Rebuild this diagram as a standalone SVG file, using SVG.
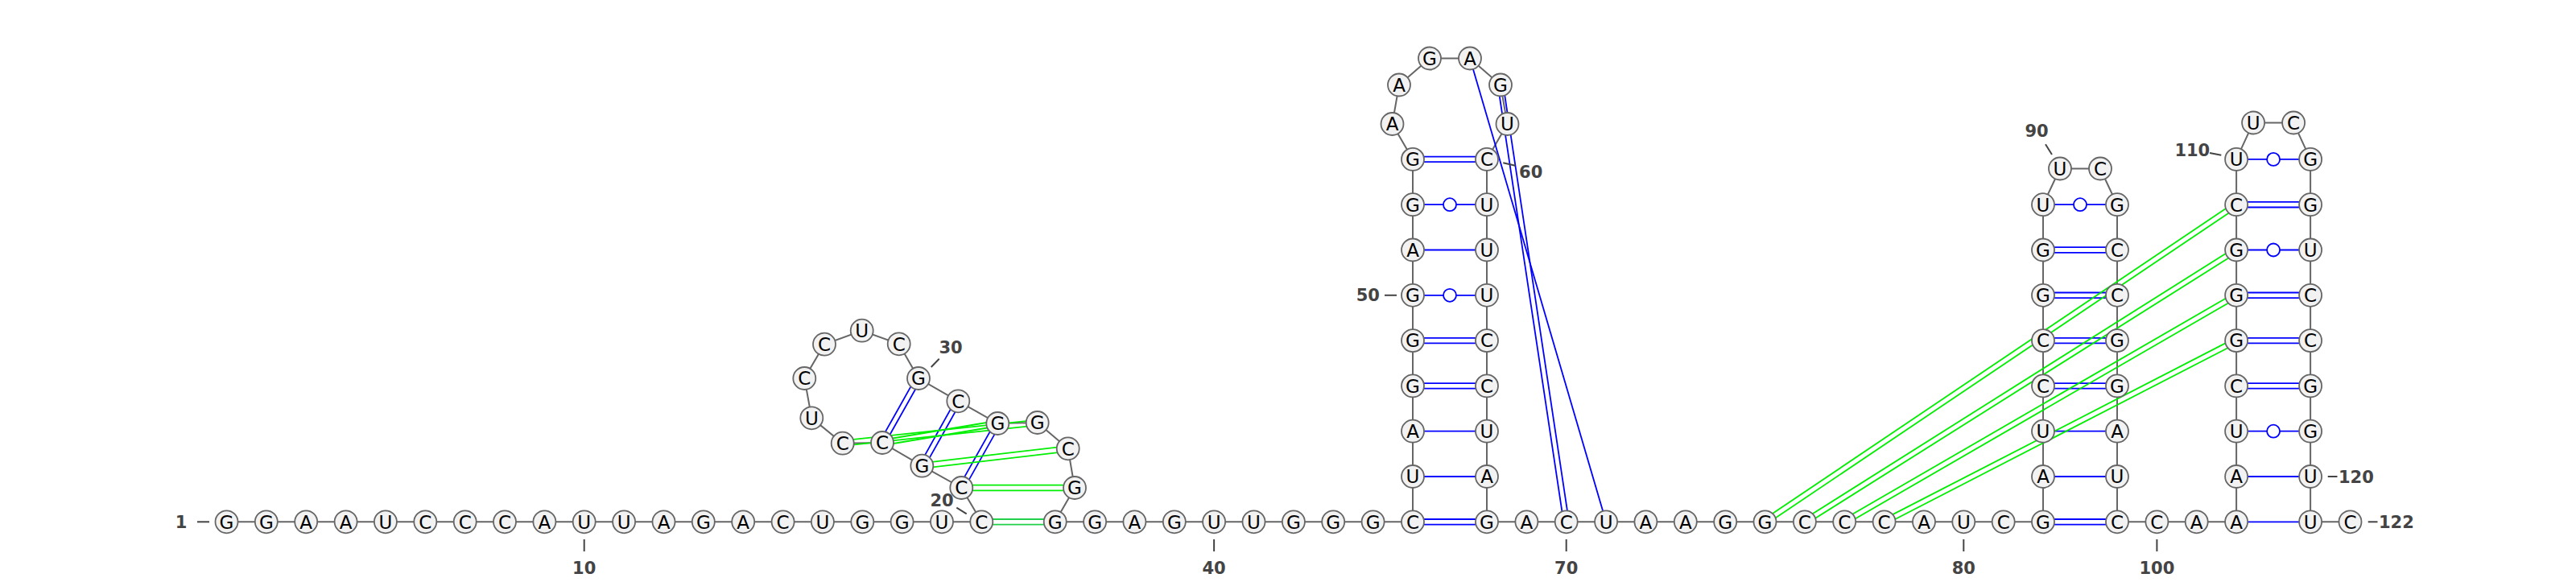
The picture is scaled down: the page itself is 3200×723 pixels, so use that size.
<svg xmlns="http://www.w3.org/2000/svg" width="3200" height="723" viewBox="0 0 3200 723">
<style>
.bb{fill:none;stroke:#666;stroke-width:2}
.bp{fill:none;stroke:#0000ff;stroke-width:1.8}
.gp{fill:none;stroke:#00ee00;stroke-width:1.8}
.gq{fill:none;stroke:#22d04a;stroke-width:1.8}
.wb{fill:#fff;stroke:#0000ff;stroke-width:1.8}
.n circle{fill:#f2f2f2;stroke:#666;stroke-width:1.8}
.n text{font-family:"DejaVu Sans",sans-serif;font-size:23px;text-anchor:middle;fill:#000}
.lb{font-family:"DejaVu Sans",sans-serif;font-weight:bold;font-size:21px;fill:#444}
.tk{stroke:#444;stroke-width:2}
</style>
<rect width="3200" height="723" fill="#fff"/>
<g id="connectors">
<polyline class="bb" points="281.5,648.3 330.8,648.3 380.2,648.3 429.6,648.3 478.9,648.3 528.3,648.3 577.7,648.3 627,648.3 676.4,648.3 725.7,648.3 775.1,648.3 824.5,648.3 873.8,648.3 923.2,648.3 972.6,648.3 1021.9,648.3 1071.3,648.3 1120.6,648.3 1170,648.3 1219.3,648.3 1194.3,606 1145.3,578.7 1096,550 1046.7,550.7 1008.3,519.3 999.3,470 1024,427.7 1070.7,410.7 1116.7,427.3 1141,470 1190.3,498.3 1239.3,526 1288.7,525 1326.7,557.3 1335,606 1310.7,648.3 1360.1,648.3 1409.4,648.3 1458.8,648.3 1508.1,648.3 1557.5,648.3 1606.9,648.3 1656.2,648.3 1705.6,648.3 1755,648.3 1755,592 1755,535.7 1755,479.4 1755,423.1 1755,366.8 1755,310.5 1755,254.2 1755,197.9 1729.5,154 1738,105.5 1776,72.5 1826,72.5 1864,105.5 1872.5,154 1847,197.9 1847,254.2 1847,310.5 1847,366.8 1847,423.1 1847,479.4 1847,535.7 1847,592 1847,648.3 1896.4,648.3 1945.7,648.3 1995.1,648.3 2044.4,648.3 2093.8,648.3 2143.2,648.3 2192.5,648.3 2241.9,648.3 2291.2,648.3 2340.6,648.3 2390,648.3 2439.3,648.3 2488.7,648.3 2538,648.3 2538,592 2538,535.7 2538,479.4 2538,423.1 2538,366.8 2538,310.5 2538,254.2 2559,209.5 2609,209.5 2630,254.2 2630,310.5 2630,366.8 2630,423.1 2630,479.4 2630,535.7 2630,592 2630,648.3 2679.4,648.3 2728.7,648.3 2778.1,648.3 2778.1,592 2778.1,535.7 2778.1,479.4 2778.1,423.1 2778.1,366.8 2778.1,310.5 2778.1,254.2 2778.1,197.9 2799.1,152.5 2849.1,152.5 2870.1,197.9 2870.1,254.2 2870.1,310.5 2870.1,366.8 2870.1,423.1 2870.1,479.4 2870.1,535.7 2870.1,592 2870.1,648.3 2919.5,648.3"/>
<!-- PK1 hairpin stem (blue) -->
<line class="bp" x1="1143.88" y1="471.62" x2="1098.88" y2="551.62"/>
<line class="bp" x1="1138.12" y1="468.38" x2="1093.12" y2="548.38"/>
<line class="bp" x1="1193.18" y1="499.92" x2="1148.18" y2="580.32"/>
<line class="bp" x1="1187.42" y1="496.68" x2="1142.42" y2="577.08"/>
<line class="bp" x1="1242.18" y1="527.62" x2="1197.18" y2="607.62"/>
<line class="bp" x1="1236.42" y1="524.38" x2="1191.42" y2="604.38"/>
<!-- PK1 green -->
<line class="gq" x1="1219.3" y1="645" x2="1310.7" y2="645"/>
<line class="gq" x1="1219.3" y1="651.6" x2="1310.7" y2="651.6"/>
<line class="gp" x1="1194.3" y1="602.7" x2="1335" y2="602.7"/>
<line class="gp" x1="1194.3" y1="609.3" x2="1335" y2="609.3"/>
<line class="gp" x1="1145.69" y1="581.98" x2="1327.09" y2="560.58"/>
<line class="gp" x1="1144.91" y1="575.42" x2="1326.31" y2="554.02"/>
<line class="gp" x1="1096.55" y1="553.25" x2="1239.85" y2="529.25"/>
<line class="gp" x1="1095.45" y1="546.75" x2="1238.75" y2="522.75"/>
<line class="gp" x1="1047.05" y1="553.98" x2="1289.05" y2="528.28"/>
<line class="gp" x1="1046.35" y1="547.42" x2="1288.35" y2="521.72"/>
<!-- Stem 2 -->
<line class="bp" x1="1755" y1="645" x2="1847" y2="645"/>
<line class="bp" x1="1755" y1="651.6" x2="1847" y2="651.6"/>
<line class="bp" x1="1755" y1="592" x2="1847" y2="592"/>
<line class="bp" x1="1755" y1="535.7" x2="1847" y2="535.7"/>
<line class="bp" x1="1755" y1="476.1" x2="1847" y2="476.1"/>
<line class="bp" x1="1755" y1="482.7" x2="1847" y2="482.7"/>
<line class="bp" x1="1755" y1="419.8" x2="1847" y2="419.8"/>
<line class="bp" x1="1755" y1="426.4" x2="1847" y2="426.4"/>
<line class="bp" x1="1755" y1="366.8" x2="1847" y2="366.8"/>
<line class="bp" x1="1755" y1="310.5" x2="1847" y2="310.5"/>
<line class="bp" x1="1755" y1="254.2" x2="1847" y2="254.2"/>
<line class="bp" x1="1755" y1="194.6" x2="1847" y2="194.6"/>
<line class="bp" x1="1755" y1="201.2" x2="1847" y2="201.2"/>
<!-- PK2 blue -->
<line class="bp" x1="1867.26" y1="105.01" x2="1948.96" y2="647.81"/>
<line class="bp" x1="1860.74" y1="105.99" x2="1942.44" y2="648.79"/>
<line class="bp" x1="1826" y1="72.5" x2="1995.1" y2="648.3"/>
<!-- Stem 3 -->
<line class="bp" x1="2538" y1="645" x2="2630" y2="645"/>
<line class="bp" x1="2538" y1="651.6" x2="2630" y2="651.6"/>
<line class="bp" x1="2538" y1="592" x2="2630" y2="592"/>
<line class="bp" x1="2538" y1="535.7" x2="2630" y2="535.7"/>
<line class="bp" x1="2538" y1="476.1" x2="2630" y2="476.1"/>
<line class="bp" x1="2538" y1="482.7" x2="2630" y2="482.7"/>
<line class="bp" x1="2538" y1="419.8" x2="2630" y2="419.8"/>
<line class="bp" x1="2538" y1="426.4" x2="2630" y2="426.4"/>
<line class="bp" x1="2538" y1="363.5" x2="2630" y2="363.5"/>
<line class="bp" x1="2538" y1="370.1" x2="2630" y2="370.1"/>
<line class="bp" x1="2538" y1="307.2" x2="2630" y2="307.2"/>
<line class="bp" x1="2538" y1="313.8" x2="2630" y2="313.8"/>
<line class="bp" x1="2538" y1="254.2" x2="2630" y2="254.2"/>
<!-- Stem 4 -->
<line class="bp" x1="2778.1" y1="648.3" x2="2870.1" y2="648.3"/>
<line class="bp" x1="2778.1" y1="592" x2="2870.1" y2="592"/>
<line class="bp" x1="2778.1" y1="535.7" x2="2870.1" y2="535.7"/>
<line class="bp" x1="2778.1" y1="476.1" x2="2870.1" y2="476.1"/>
<line class="bp" x1="2778.1" y1="482.7" x2="2870.1" y2="482.7"/>
<line class="bp" x1="2778.1" y1="419.8" x2="2870.1" y2="419.8"/>
<line class="bp" x1="2778.1" y1="426.4" x2="2870.1" y2="426.4"/>
<line class="bp" x1="2778.1" y1="363.5" x2="2870.1" y2="363.5"/>
<line class="bp" x1="2778.1" y1="370.1" x2="2870.1" y2="370.1"/>
<line class="bp" x1="2778.1" y1="310.5" x2="2870.1" y2="310.5"/>
<line class="bp" x1="2778.1" y1="250.9" x2="2870.1" y2="250.9"/>
<line class="bp" x1="2778.1" y1="257.5" x2="2870.1" y2="257.5"/>
<line class="bp" x1="2778.1" y1="197.9" x2="2870.1" y2="197.9"/>
<!-- PK3 green -->
<line class="gp" x1="2194.34" y1="651.04" x2="2779.94" y2="256.94"/>
<line class="gp" x1="2190.66" y1="645.56" x2="2776.26" y2="251.46"/>
<line class="gp" x1="2243.66" y1="651.09" x2="2779.86" y2="313.29"/>
<line class="gp" x1="2240.14" y1="645.51" x2="2776.34" y2="307.71"/>
<line class="gp" x1="2292.85" y1="651.16" x2="2779.75" y2="369.66"/>
<line class="gp" x1="2289.55" y1="645.44" x2="2776.45" y2="363.94"/>
<line class="gp" x1="2342.11" y1="651.23" x2="2779.61" y2="426.03"/>
<line class="gp" x1="2339.09" y1="645.37" x2="2776.59" y2="420.17"/>
<!-- wobble pairs -->
<circle class="wb" cx="1801" cy="366.8" r="8"/>
<circle class="wb" cx="1801" cy="254.2" r="8"/>
<circle class="wb" cx="2584" cy="254.2" r="8"/>
<circle class="wb" cx="2824.1" cy="535.7" r="8"/>
<circle class="wb" cx="2824.1" cy="310.5" r="8"/>
<circle class="wb" cx="2824.1" cy="197.9" r="8"/>
</g>
<g id="nodes">
<g id="nt1" class="n"><circle cx="281.5" cy="648.3" r="14"/><text x="281.5" y="656.6">G</text></g>
<g id="nt2" class="n"><circle cx="330.8" cy="648.3" r="14"/><text x="330.8" y="656.6">G</text></g>
<g id="nt3" class="n"><circle cx="380.2" cy="648.3" r="14"/><text x="380.2" y="656.6">A</text></g>
<g id="nt4" class="n"><circle cx="429.6" cy="648.3" r="14"/><text x="429.6" y="656.6">A</text></g>
<g id="nt5" class="n"><circle cx="478.9" cy="648.3" r="14"/><text x="478.9" y="656.6">U</text></g>
<g id="nt6" class="n"><circle cx="528.3" cy="648.3" r="14"/><text x="528.3" y="656.6">C</text></g>
<g id="nt7" class="n"><circle cx="577.7" cy="648.3" r="14"/><text x="577.7" y="656.6">C</text></g>
<g id="nt8" class="n"><circle cx="627" cy="648.3" r="14"/><text x="627" y="656.6">C</text></g>
<g id="nt9" class="n"><circle cx="676.4" cy="648.3" r="14"/><text x="676.4" y="656.6">A</text></g>
<g id="nt10" class="n"><circle cx="725.7" cy="648.3" r="14"/><text x="725.7" y="656.6">U</text></g>
<g id="nt11" class="n"><circle cx="775.1" cy="648.3" r="14"/><text x="775.1" y="656.6">U</text></g>
<g id="nt12" class="n"><circle cx="824.5" cy="648.3" r="14"/><text x="824.5" y="656.6">A</text></g>
<g id="nt13" class="n"><circle cx="873.8" cy="648.3" r="14"/><text x="873.8" y="656.6">G</text></g>
<g id="nt14" class="n"><circle cx="923.2" cy="648.3" r="14"/><text x="923.2" y="656.6">A</text></g>
<g id="nt15" class="n"><circle cx="972.6" cy="648.3" r="14"/><text x="972.6" y="656.6">C</text></g>
<g id="nt16" class="n"><circle cx="1021.9" cy="648.3" r="14"/><text x="1021.9" y="656.6">U</text></g>
<g id="nt17" class="n"><circle cx="1071.3" cy="648.3" r="14"/><text x="1071.3" y="656.6">G</text></g>
<g id="nt18" class="n"><circle cx="1120.6" cy="648.3" r="14"/><text x="1120.6" y="656.6">G</text></g>
<g id="nt19" class="n"><circle cx="1170" cy="648.3" r="14"/><text x="1170" y="656.6">U</text></g>
<g id="nt20" class="n"><circle cx="1219.3" cy="648.3" r="14"/><text x="1219.3" y="656.6">C</text></g>
<g id="nt21" class="n"><circle cx="1194.3" cy="606" r="14"/><text x="1194.3" y="614.3">C</text></g>
<g id="nt22" class="n"><circle cx="1145.3" cy="578.7" r="14"/><text x="1145.3" y="587">G</text></g>
<g id="nt23" class="n"><circle cx="1096" cy="550" r="14"/><text x="1096" y="558.3">C</text></g>
<g id="nt24" class="n"><circle cx="1046.7" cy="550.7" r="14"/><text x="1046.7" y="559">C</text></g>
<g id="nt25" class="n"><circle cx="1008.3" cy="519.3" r="14"/><text x="1008.3" y="527.6">U</text></g>
<g id="nt26" class="n"><circle cx="999.3" cy="470" r="14"/><text x="999.3" y="478.3">C</text></g>
<g id="nt27" class="n"><circle cx="1024" cy="427.7" r="14"/><text x="1024" y="436">C</text></g>
<g id="nt28" class="n"><circle cx="1070.7" cy="410.7" r="14"/><text x="1070.7" y="419">U</text></g>
<g id="nt29" class="n"><circle cx="1116.7" cy="427.3" r="14"/><text x="1116.7" y="435.6">C</text></g>
<g id="nt30" class="n"><circle cx="1141" cy="470" r="14"/><text x="1141" y="478.3">G</text></g>
<g id="nt31" class="n"><circle cx="1190.3" cy="498.3" r="14"/><text x="1190.3" y="506.6">C</text></g>
<g id="nt32" class="n"><circle cx="1239.3" cy="526" r="14"/><text x="1239.3" y="534.3">G</text></g>
<g id="nt33" class="n"><circle cx="1288.7" cy="525" r="14"/><text x="1288.7" y="533.3">G</text></g>
<g id="nt34" class="n"><circle cx="1326.7" cy="557.3" r="14"/><text x="1326.7" y="565.6">C</text></g>
<g id="nt35" class="n"><circle cx="1335" cy="606" r="14"/><text x="1335" y="614.3">G</text></g>
<g id="nt36" class="n"><circle cx="1310.7" cy="648.3" r="14"/><text x="1310.7" y="656.6">G</text></g>
<g id="nt37" class="n"><circle cx="1360.1" cy="648.3" r="14"/><text x="1360.1" y="656.6">G</text></g>
<g id="nt38" class="n"><circle cx="1409.4" cy="648.3" r="14"/><text x="1409.4" y="656.6">A</text></g>
<g id="nt39" class="n"><circle cx="1458.8" cy="648.3" r="14"/><text x="1458.8" y="656.6">G</text></g>
<g id="nt40" class="n"><circle cx="1508.1" cy="648.3" r="14"/><text x="1508.1" y="656.6">U</text></g>
<g id="nt41" class="n"><circle cx="1557.5" cy="648.3" r="14"/><text x="1557.5" y="656.6">U</text></g>
<g id="nt42" class="n"><circle cx="1606.9" cy="648.3" r="14"/><text x="1606.9" y="656.6">G</text></g>
<g id="nt43" class="n"><circle cx="1656.2" cy="648.3" r="14"/><text x="1656.2" y="656.6">G</text></g>
<g id="nt44" class="n"><circle cx="1705.6" cy="648.3" r="14"/><text x="1705.6" y="656.6">G</text></g>
<g id="nt45" class="n"><circle cx="1755" cy="648.3" r="14"/><text x="1755" y="656.6">C</text></g>
<g id="nt46" class="n"><circle cx="1755" cy="592" r="14"/><text x="1755" y="600.3">U</text></g>
<g id="nt47" class="n"><circle cx="1755" cy="535.7" r="14"/><text x="1755" y="544">A</text></g>
<g id="nt48" class="n"><circle cx="1755" cy="479.4" r="14"/><text x="1755" y="487.7">G</text></g>
<g id="nt49" class="n"><circle cx="1755" cy="423.1" r="14"/><text x="1755" y="431.4">G</text></g>
<g id="nt50" class="n"><circle cx="1755" cy="366.8" r="14"/><text x="1755" y="375.1">G</text></g>
<g id="nt51" class="n"><circle cx="1755" cy="310.5" r="14"/><text x="1755" y="318.8">A</text></g>
<g id="nt52" class="n"><circle cx="1755" cy="254.2" r="14"/><text x="1755" y="262.5">G</text></g>
<g id="nt53" class="n"><circle cx="1755" cy="197.9" r="14"/><text x="1755" y="206.2">G</text></g>
<g id="nt54" class="n"><circle cx="1729.5" cy="154" r="14"/><text x="1729.5" y="162.3">A</text></g>
<g id="nt55" class="n"><circle cx="1738" cy="105.5" r="14"/><text x="1738" y="113.8">A</text></g>
<g id="nt56" class="n"><circle cx="1776" cy="72.5" r="14"/><text x="1776" y="80.8">G</text></g>
<g id="nt57" class="n"><circle cx="1826" cy="72.5" r="14"/><text x="1826" y="80.8">A</text></g>
<g id="nt58" class="n"><circle cx="1864" cy="105.5" r="14"/><text x="1864" y="113.8">G</text></g>
<g id="nt59" class="n"><circle cx="1872.5" cy="154" r="14"/><text x="1872.5" y="162.3">U</text></g>
<g id="nt60" class="n"><circle cx="1847" cy="197.9" r="14"/><text x="1847" y="206.2">C</text></g>
<g id="nt61" class="n"><circle cx="1847" cy="254.2" r="14"/><text x="1847" y="262.5">U</text></g>
<g id="nt62" class="n"><circle cx="1847" cy="310.5" r="14"/><text x="1847" y="318.8">U</text></g>
<g id="nt63" class="n"><circle cx="1847" cy="366.8" r="14"/><text x="1847" y="375.1">U</text></g>
<g id="nt64" class="n"><circle cx="1847" cy="423.1" r="14"/><text x="1847" y="431.4">C</text></g>
<g id="nt65" class="n"><circle cx="1847" cy="479.4" r="14"/><text x="1847" y="487.7">C</text></g>
<g id="nt66" class="n"><circle cx="1847" cy="535.7" r="14"/><text x="1847" y="544">U</text></g>
<g id="nt67" class="n"><circle cx="1847" cy="592" r="14"/><text x="1847" y="600.3">A</text></g>
<g id="nt68" class="n"><circle cx="1847" cy="648.3" r="14"/><text x="1847" y="656.6">G</text></g>
<g id="nt69" class="n"><circle cx="1896.4" cy="648.3" r="14"/><text x="1896.4" y="656.6">A</text></g>
<g id="nt70" class="n"><circle cx="1945.7" cy="648.3" r="14"/><text x="1945.7" y="656.6">C</text></g>
<g id="nt71" class="n"><circle cx="1995.1" cy="648.3" r="14"/><text x="1995.1" y="656.6">U</text></g>
<g id="nt72" class="n"><circle cx="2044.4" cy="648.3" r="14"/><text x="2044.4" y="656.6">A</text></g>
<g id="nt73" class="n"><circle cx="2093.8" cy="648.3" r="14"/><text x="2093.8" y="656.6">A</text></g>
<g id="nt74" class="n"><circle cx="2143.2" cy="648.3" r="14"/><text x="2143.2" y="656.6">G</text></g>
<g id="nt75" class="n"><circle cx="2192.5" cy="648.3" r="14"/><text x="2192.5" y="656.6">G</text></g>
<g id="nt76" class="n"><circle cx="2241.9" cy="648.3" r="14"/><text x="2241.9" y="656.6">C</text></g>
<g id="nt77" class="n"><circle cx="2291.2" cy="648.3" r="14"/><text x="2291.2" y="656.6">C</text></g>
<g id="nt78" class="n"><circle cx="2340.6" cy="648.3" r="14"/><text x="2340.6" y="656.6">C</text></g>
<g id="nt79" class="n"><circle cx="2390" cy="648.3" r="14"/><text x="2390" y="656.6">A</text></g>
<g id="nt80" class="n"><circle cx="2439.3" cy="648.3" r="14"/><text x="2439.3" y="656.6">U</text></g>
<g id="nt81" class="n"><circle cx="2488.7" cy="648.3" r="14"/><text x="2488.7" y="656.6">C</text></g>
<g id="nt82" class="n"><circle cx="2538" cy="648.3" r="14"/><text x="2538" y="656.6">G</text></g>
<g id="nt83" class="n"><circle cx="2538" cy="592" r="14"/><text x="2538" y="600.3">A</text></g>
<g id="nt84" class="n"><circle cx="2538" cy="535.7" r="14"/><text x="2538" y="544">U</text></g>
<g id="nt85" class="n"><circle cx="2538" cy="479.4" r="14"/><text x="2538" y="487.7">C</text></g>
<g id="nt86" class="n"><circle cx="2538" cy="423.1" r="14"/><text x="2538" y="431.4">C</text></g>
<g id="nt87" class="n"><circle cx="2538" cy="366.8" r="14"/><text x="2538" y="375.1">G</text></g>
<g id="nt88" class="n"><circle cx="2538" cy="310.5" r="14"/><text x="2538" y="318.8">G</text></g>
<g id="nt89" class="n"><circle cx="2538" cy="254.2" r="14"/><text x="2538" y="262.5">U</text></g>
<g id="nt90" class="n"><circle cx="2559" cy="209.5" r="14"/><text x="2559" y="217.8">U</text></g>
<g id="nt91" class="n"><circle cx="2609" cy="209.5" r="14"/><text x="2609" y="217.8">C</text></g>
<g id="nt92" class="n"><circle cx="2630" cy="254.2" r="14"/><text x="2630" y="262.5">G</text></g>
<g id="nt93" class="n"><circle cx="2630" cy="310.5" r="14"/><text x="2630" y="318.8">C</text></g>
<g id="nt94" class="n"><circle cx="2630" cy="366.8" r="14"/><text x="2630" y="375.1">C</text></g>
<g id="nt95" class="n"><circle cx="2630" cy="423.1" r="14"/><text x="2630" y="431.4">G</text></g>
<g id="nt96" class="n"><circle cx="2630" cy="479.4" r="14"/><text x="2630" y="487.7">G</text></g>
<g id="nt97" class="n"><circle cx="2630" cy="535.7" r="14"/><text x="2630" y="544">A</text></g>
<g id="nt98" class="n"><circle cx="2630" cy="592" r="14"/><text x="2630" y="600.3">U</text></g>
<g id="nt99" class="n"><circle cx="2630" cy="648.3" r="14"/><text x="2630" y="656.6">C</text></g>
<g id="nt100" class="n"><circle cx="2679.4" cy="648.3" r="14"/><text x="2679.4" y="656.6">C</text></g>
<g id="nt101" class="n"><circle cx="2728.7" cy="648.3" r="14"/><text x="2728.7" y="656.6">A</text></g>
<g id="nt102" class="n"><circle cx="2778.1" cy="648.3" r="14"/><text x="2778.1" y="656.6">A</text></g>
<g id="nt103" class="n"><circle cx="2778.1" cy="592" r="14"/><text x="2778.1" y="600.3">A</text></g>
<g id="nt104" class="n"><circle cx="2778.1" cy="535.7" r="14"/><text x="2778.1" y="544">U</text></g>
<g id="nt105" class="n"><circle cx="2778.1" cy="479.4" r="14"/><text x="2778.1" y="487.7">C</text></g>
<g id="nt106" class="n"><circle cx="2778.1" cy="423.1" r="14"/><text x="2778.1" y="431.4">G</text></g>
<g id="nt107" class="n"><circle cx="2778.1" cy="366.8" r="14"/><text x="2778.1" y="375.1">G</text></g>
<g id="nt108" class="n"><circle cx="2778.1" cy="310.5" r="14"/><text x="2778.1" y="318.8">G</text></g>
<g id="nt109" class="n"><circle cx="2778.1" cy="254.2" r="14"/><text x="2778.1" y="262.5">C</text></g>
<g id="nt110" class="n"><circle cx="2778.1" cy="197.9" r="14"/><text x="2778.1" y="206.2">U</text></g>
<g id="nt111" class="n"><circle cx="2799.1" cy="152.5" r="14"/><text x="2799.1" y="160.8">U</text></g>
<g id="nt112" class="n"><circle cx="2849.1" cy="152.5" r="14"/><text x="2849.1" y="160.8">C</text></g>
<g id="nt113" class="n"><circle cx="2870.1" cy="197.9" r="14"/><text x="2870.1" y="206.2">G</text></g>
<g id="nt114" class="n"><circle cx="2870.1" cy="254.2" r="14"/><text x="2870.1" y="262.5">G</text></g>
<g id="nt115" class="n"><circle cx="2870.1" cy="310.5" r="14"/><text x="2870.1" y="318.8">U</text></g>
<g id="nt116" class="n"><circle cx="2870.1" cy="366.8" r="14"/><text x="2870.1" y="375.1">C</text></g>
<g id="nt117" class="n"><circle cx="2870.1" cy="423.1" r="14"/><text x="2870.1" y="431.4">C</text></g>
<g id="nt118" class="n"><circle cx="2870.1" cy="479.4" r="14"/><text x="2870.1" y="487.7">G</text></g>
<g id="nt119" class="n"><circle cx="2870.1" cy="535.7" r="14"/><text x="2870.1" y="544">G</text></g>
<g id="nt120" class="n"><circle cx="2870.1" cy="592" r="14"/><text x="2870.1" y="600.3">U</text></g>
<g id="nt121" class="n"><circle cx="2870.1" cy="648.3" r="14"/><text x="2870.1" y="656.6">U</text></g>
<g id="nt122" class="n"><circle cx="2919.5" cy="648.3" r="14"/><text x="2919.5" y="656.6">C</text></g>
</g>
<g id="labels">
<line class="tk" x1="245" y1="648.3" x2="260" y2="648.3"/>
<text class="lb" x="225" y="655.9" text-anchor="middle">1</text>
<line class="tk" x1="725.7" y1="670" x2="725.7" y2="685"/>
<text class="lb" x="725.7" y="713" text-anchor="middle">10</text>
<line class="tk" x1="1188.3" y1="630.7" x2="1200.7" y2="638.3"/>
<text class="lb" x="1170" y="629.3" text-anchor="middle">20</text>
<line class="tk" x1="1156.7" y1="456" x2="1166.7" y2="445.7"/>
<text class="lb" x="1181" y="439.3" text-anchor="middle">30</text>
<line class="tk" x1="1508.1" y1="670" x2="1508.1" y2="685"/>
<text class="lb" x="1508.1" y="713" text-anchor="middle">40</text>
<line class="tk" x1="1720" y1="366.8" x2="1735" y2="366.8"/>
<text class="lb" x="1699.3" y="374.4" text-anchor="middle">50</text>
<line class="tk" x1="1867.3" y1="202.3" x2="1882.3" y2="205.7"/>
<text class="lb" x="1901.7" y="221" text-anchor="middle">60</text>
<line class="tk" x1="1945.7" y1="670" x2="1945.7" y2="685"/>
<text class="lb" x="1945.7" y="713" text-anchor="middle">70</text>
<line class="tk" x1="2439.3" y1="670" x2="2439.3" y2="685"/>
<text class="lb" x="2439.3" y="713" text-anchor="middle">80</text>
<line class="tk" x1="2541" y1="179.3" x2="2549" y2="192"/>
<text class="lb" x="2530" y="170" text-anchor="middle">90</text>
<line class="tk" x1="2679.4" y1="670" x2="2679.4" y2="685"/>
<text class="lb" x="2679.4" y="713" text-anchor="middle">100</text>
<line class="tk" x1="2745" y1="190" x2="2759.3" y2="192.7"/>
<text class="lb" x="2723.3" y="193.6" text-anchor="middle">110</text>
<line class="tk" x1="2891.7" y1="592" x2="2903.5" y2="592"/>
<text class="lb" x="2905" y="599.6">120</text>
<line class="tk" x1="2941.7" y1="648.3" x2="2953.5" y2="648.3"/>
<text class="lb" x="2955" y="655.9">122</text>
</g>
</svg>
